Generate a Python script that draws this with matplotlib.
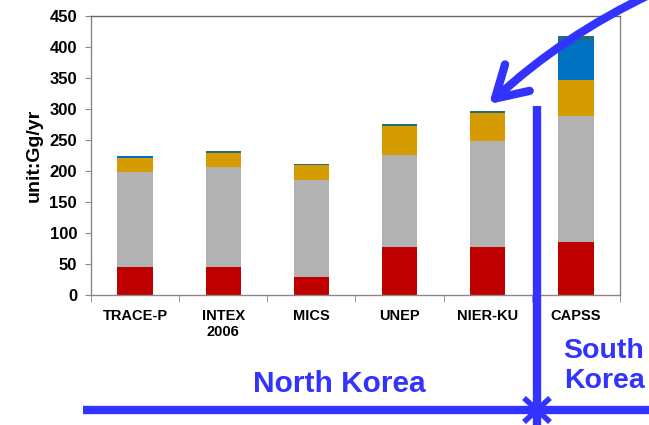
import matplotlib
matplotlib.use("Agg")
import matplotlib.pyplot as plt
from matplotlib.patches import FancyArrowPatch
import numpy as np

categories = ["TRACE-P", "INTEX\n2006", "MICS", "UNEP", "NIER-KU", "CAPSS"]
red_vals = [45, 45, 29, 78, 78, 85]
gray_vals = [154, 162, 157, 148, 170, 203]
gold_vals = [22, 22, 23, 46, 45, 58]
blue_vals = [3, 0, 0, 0, 0, 66]
teal_vals = [1, 3, 2, 4, 4, 5]
series = [red_vals, gray_vals, gold_vals, blue_vals, teal_vals]
colors = ["#C00000", "#B2B2B2", "#D69B00", "#0070C0", "#1F6E78"]
yticks = [0, 50, 100, 150, 200, 250, 300, 350, 400, 450]

plt.rcParams['font.family'] = ['Liberation Sans', 'DejaVu Sans']

W, H = 649, 425
fig = plt.figure(figsize=(W / 100, H / 100), dpi=100)
ax = fig.add_axes([91 / W, 1 - 295 / H, (620 - 91) / W, (295 - 16) / H])

x = np.arange(len(categories))
bottom = np.zeros(len(categories))
for vals, c in zip(series, colors):
    ax.bar(x, vals, width=0.4, bottom=bottom, color=c, linewidth=0)
    bottom += np.array(vals)

ax.set_xlim(-0.5, len(categories) - 0.5)
ax.set_ylim(0, 450)
ax.set_yticks(yticks)
ax.set_yticklabels([str(v) for v in yticks], fontsize=12, fontweight='bold')
ax.set_xticks(x)
ax.set_xticklabels(categories, fontsize=10.5, fontweight='bold', va='top')
ax.tick_params(axis='x', length=0, pad=10)
ax.tick_params(axis='y', length=4, color='#888888', direction='out', pad=6)
ax.set_xticks(np.arange(-0.5, len(categories), 1), minor=True)
ax.tick_params(axis='x', which='minor', length=5, color='#888888', direction='out')
for s in ax.spines.values():
    s.set_color('#888888')
    s.set_linewidth(1.0)
ax.spines['top'].set_color('#666666')
ax.set_ylabel("unit:Gg/yr", fontsize=14, fontweight='bold', labelpad=5)

blue = "#3333FF"

def fx(px):
    return px / W

def fy(py):
    return 1 - py / H

# curved arrow from top-right to NIER-KU top
arr = FancyArrowPatch((fx(655), fy(-8)), (fx(487), fy(106)),
                      transform=fig.transFigure, arrowstyle='->,head_length=22,head_width=13',
                      connectionstyle='arc3,rad=0.08', color=blue, linewidth=6,
                      capstyle='round', joinstyle='round')
fig.patches.append(arr)

# vertical line crossing the horizontal line
fig.add_artist(plt.Line2D([fx(537), fx(537)], [fy(106), fy(425)], transform=fig.transFigure,
                          color=blue, linewidth=6, solid_capstyle='butt'))
# horizontal line
fig.add_artist(plt.Line2D([fx(83), fx(649)], [fy(410), fy(410)], transform=fig.transFigure,
                          color=blue, linewidth=6, solid_capstyle='butt'))
# star-like crossing marks
fig.add_artist(plt.Line2D([fx(524), fx(550)], [fy(398), fy(422)], transform=fig.transFigure,
                          color=blue, linewidth=4, solid_capstyle='butt'))
fig.add_artist(plt.Line2D([fx(524), fx(550)], [fy(422), fy(398)], transform=fig.transFigure,
                          color=blue, linewidth=4, solid_capstyle='butt'))

fig.text(fx(339), fy(384), "North Korea", color=blue, fontsize=21.5, fontweight='bold',
         ha='center', va='center')
fig.text(fx(604), fy(366), "South\nKorea", color=blue, fontsize=20.5, fontweight='bold',
         ha='center', va='center', linespacing=1.2)

fig.savefig("out.png", dpi=100)
